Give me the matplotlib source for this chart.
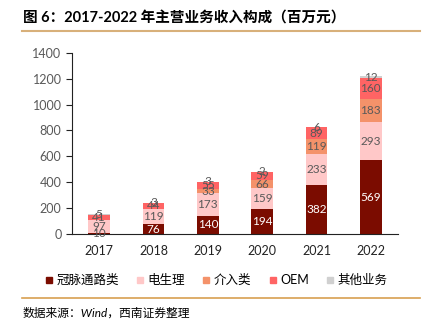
import numpy as np
import matplotlib
matplotlib.use("Agg")
import matplotlib.pyplot as plt
from matplotlib.lines import Line2D

plt.rcParams['font.family'] = ['Lato', 'Noto Sans CJK SC', 'DejaVu Sans']

years = ["2017", "2018", "2019", "2020", "2021", "2022"]
series_names = ["冠脉通路类", "电生理", "介入类", "OEM", "其他业务"]
coronary = [10, 76, 140, 194, 382, 569]
ep = [97, 119, 173, 159, 233, 293]
interv = [0, 0, 33, 66, 119, 183]
oem = [41, 44, 55, 59, 89, 160]
other = [5, 3, 3, 2, 6, 12]
colors = ["#7B0C00", "#FFC8C8", "#F4926A", "#FF6464", "#D0D0D0"]

OUT = "out.png"


def main():
    fig = plt.figure(figsize=(4.3, 3.3), dpi=100)
    ax = fig.add_axes([0.1674, 0.2909, 0.7582, 0.5494])

    x = np.arange(len(years))
    bottom = np.zeros(len(years))
    for k, (name, vals, col) in enumerate(
            zip(series_names, [coronary, ep, interv, oem, other], colors)):
        vals = np.array(vals, dtype=float)
        ax.bar(x, vals, 0.4, bottom=bottom, color=col, label=name)
        for i, v in enumerate(vals):
            if v <= 0:
                continue
            tc = "white" if (k == 0 and v > 50) else "#595959"
            ax.text(x[i], bottom[i] + v / 2, f"{int(v)}", ha="center", va="center",
                    fontsize=8.5, color=tc)
        bottom += vals

    ax.set_xlim(-0.5, len(years) - 0.5)
    ax.set_ylim(0, 1400)
    ax.set_yticks(np.arange(0, 1401, 200))
    ax.set_xticks(x)
    ax.set_xticklabels(years)
    ax.tick_params(axis="x", length=0, pad=8, labelsize=9, labelcolor="#222222")
    ax.tick_params(axis="y", length=4, width=0.8, color="#222222", labelsize=9,
                   labelcolor="#595959")
    for s in ["top", "right"]:
        ax.spines[s].set_visible(False)
    ax.spines["left"].set_color("#222222")
    ax.spines["bottom"].set_color("#222222")

    handles = [Line2D([], [], marker="s", ls="", markersize=5, color=c) for c in colors]
    fig.legend(handles, series_names, loc="center", bbox_to_anchor=(0.50, 0.152),
               ncol=5, frameon=False, fontsize=9, handletextpad=0.1,
               columnspacing=1.2, handlelength=1.0)

    fig.text(0.053, 0.945, "图 6：2017-2022 年主营业务收入构成（百万元）",
             fontsize=10.5, fontweight="bold", ha="left", va="center")
    fig.add_artist(Line2D([0.052, 0.977], [0.906, 0.906], color="#D8B07A", lw=1.5))
    fig.add_artist(Line2D([0.052, 0.977], [0.097, 0.097], color="#D8A050", lw=1.2))
    fig.text(0.053, 0.052, "数据来源：Wind，西南证券整理", fontsize=8.5,
             style="italic", ha="left", va="center")

    fig.savefig(OUT, dpi=100)


if __name__ == "__main__":
    main()
